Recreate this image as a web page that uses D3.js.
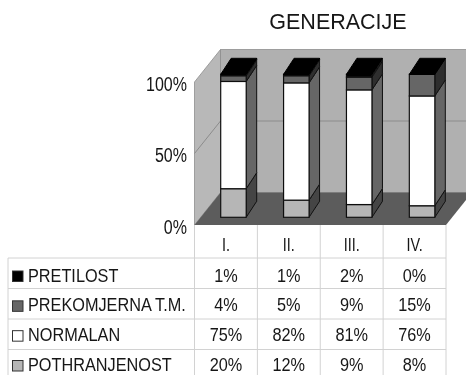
<!DOCTYPE html>
<html>
<head>
<meta charset="utf-8">
<script src="https://cdn.jsdelivr.net/npm/d3@7"></script>
<style>
html, body { margin: 0; padding: 0; background: #fff; overflow: hidden; }
text { font-family: "Liberation Sans", Arial, sans-serif; fill: #161616; }
</style>
</head>
<body>
<script>
// Values
var title = "GENERACIJE";
var generations = ["I.", "II.", "III.", "IV."];
var seriesNames = ["POTHRANJENOST", "NORMALAN", "PREKOMJERNA T.M.", "PRETILOST"];
var pothranjenost = [20, 12, 9, 8];
var normalan = [75, 82, 81, 76];
var prekomjerna = [4, 5, 9, 15];
var pretilost = [1, 1, 2, 0];
var yTicks = [0, 0.5, 1];

var w = 466, h = 375;

var faceColors = ["#b6b6b6", "#ffffff", "#666666", "#000000"];
var sideColors = ["#444444", "#666666", "#2e2e2e", "#1a1a1a"];
var gridColor = "#d2d2d2";

var svg = d3.select("body").append("svg")
    .attr("width", w)
    .attr("height", h)
    .style("display", "block");

// The reference is a soft scan, so everything gets a little blur
svg.append("filter").attr("id", "soft")
    .append("feGaussianBlur").attr("stdDeviation", 0.45);

var root = svg.append("g").attr("filter", "url(#soft)");

// Rows of the stack, one object per generation
var rows = generations.map(function(g, i) {
    return {
        gen: g,
        POTHRANJENOST: pothranjenost[i],
        NORMALAN: normalan[i],
        "PREKOMJERNA T.M.": prekomjerna[i],
        PRETILOST: pretilost[i]
    };
});

// 100% stacked, as the chart was
var stacked = d3.stack()
    .keys(seriesNames)
    .offset(d3.stackOffsetExpand)(rows);

// Scales
var plotLeft = 194.5, plotRight = 446;
var x = d3.scaleBand().domain(generations).range([plotLeft, plotRight]);
var y = d3.scaleLinear().domain([0, 1]).range([225, 82]);

// Depth of the 3d box and of the bars
var depthX = 26, depthY = -32.5;
var barW = 25.5, barDx = 10.5, barDy = -16;
var barOffX = 26.2, barOffY = -7.7;

function pts(a) {
    return a.map(function(p) { return p.join(","); }).join(" ");
}

// Chart labels in the original are squeezed sideways, title is not
function squeezed(px, py, str, size, anchor, sx) {
    return root.append("text")
        .attr("transform", "translate(" + px + "," + py + ") scale(" + sx + ",1)")
        .attr("text-anchor", anchor)
        .style("font-size", size + "px")
        .text(str);
}

// Walls
root.append("polygon")
    .attr("points", pts([
        [plotLeft, y(0)], [plotLeft, y(1)],
        [plotLeft + depthX, y(1) + depthY], [plotLeft + depthX, y(0) + depthY]
    ]))
    .attr("fill", "#b8b8b8").attr("stroke", "#8e8e8e").attr("stroke-width", 0.8);

root.append("polygon")
    .attr("points", pts([
        [plotLeft + depthX, y(0) + depthY], [plotLeft + depthX, y(1) + depthY],
        [plotRight + depthX, y(1) + depthY], [plotRight + depthX, y(0) + depthY]
    ]))
    .attr("fill", "#b0b0b0").attr("stroke", "#8e8e8e").attr("stroke-width", 0.8);

// Floor
root.append("polygon")
    .attr("points", pts([
        [plotLeft, y(0)], [plotRight, y(0)],
        [plotRight + depthX, y(0) + depthY], [plotLeft + depthX, y(0) + depthY]
    ]))
    .attr("fill", "#5c5c5c");

// 50% gridline on the walls
yTicks.filter(function(t) { return t > 0 && t < 1; }).forEach(function(t) {
    root.append("polyline")
        .attr("points", pts([
            [plotLeft, y(t)],
            [plotLeft + depthX, y(t) + depthY],
            [plotRight + depthX, y(t) + depthY]
        ]))
        .attr("fill", "none").attr("stroke", "#8c8c8c").attr("stroke-width", 1);
});

// Bars, drawn bottom segment first
generations.forEach(function(g, gi) {
    var x0 = x(g) + barOffX;
    var x1 = x0 + barW;
    var bar = root.append("g");

    stacked.forEach(function(s, si) {
        var yb = y(s[gi][0]) + barOffY;
        var yt = y(s[gi][1]) + barOffY;

        bar.append("polygon")
            .attr("points", pts([
                [x1, yb], [x1, yt], [x1 + barDx, yt + barDy], [x1 + barDx, yb + barDy]
            ]))
            .attr("fill", sideColors[si])
            .attr("stroke", "#111").attr("stroke-width", 1);

        bar.append("rect")
            .attr("x", x0).attr("y", yt)
            .attr("width", barW).attr("height", yb - yt)
            .attr("fill", faceColors[si])
            .attr("stroke", "#111").attr("stroke-width", 1.2);
    });

    // black lid on top of the stack
    var top = y(1) + barOffY;
    bar.append("polygon")
        .attr("points", pts([
            [x0, top], [x1, top], [x1 + barDx, top + barDy], [x0 + barDx, top + barDy]
        ]))
        .attr("fill", "#000").attr("stroke", "#000").attr("stroke-width", 1);
});

// Y axis labels
yTicks.forEach(function(t) {
    squeezed(187, y(t) + 8.5, d3.format(".0%")(t), 20, "end", 0.8);
});

// Title
root.append("text")
    .attr("x", 338).attr("y", 29)
    .attr("text-anchor", "middle")
    .style("font-size", "21.5px")
    .text(title);

// Data table under the chart
var tableRows = seriesNames.slice().reverse();
var headerTop = 225, tableLeft = 8;
var rowY = d3.scaleBand().domain(tableRows).range([258, 258 + 4 * 30.5]);
// text sits a little differently from the lines, last row has to fit the window
var textY = d3.scalePoint().domain(tableRows).range([275.5, 365]);
var tableBottom = rowY.range()[1];
var tableValues = { "PRETILOST": pretilost, "PREKOMJERNA T.M.": prekomjerna, "NORMALAN": normalan, "POTHRANJENOST": pothranjenost };

var grid = root.append("g").attr("stroke", gridColor).attr("stroke-width", 1);

// vertical lines
generations.forEach(function(g) {
    grid.append("line")
        .attr("x1", x(g)).attr("x2", x(g))
        .attr("y1", headerTop).attr("y2", tableBottom);
});
grid.append("line")
    .attr("x1", plotRight).attr("x2", plotRight)
    .attr("y1", headerTop).attr("y2", tableBottom);
grid.append("line")
    .attr("x1", tableLeft).attr("x2", tableLeft)
    .attr("y1", 258).attr("y2", tableBottom);

// horizontal lines
tableRows.forEach(function(r) {
    grid.append("line")
        .attr("x1", tableLeft).attr("x2", plotRight)
        .attr("y1", rowY(r)).attr("y2", rowY(r));
});

// header labels
generations.forEach(function(g) {
    squeezed(x(g) + x.bandwidth() / 2, 250.5, g, 18, "middle", 0.8);
});

// rows
tableRows.forEach(function(r) {
    var si = seriesNames.indexOf(r);
    var cy = textY(r);

    root.append("rect")
        .attr("x", 12.5).attr("y", cy - 4.5)
        .attr("width", 10.5).attr("height", 10.5)
        .attr("fill", faceColors[si])
        .attr("stroke", "#333").attr("stroke-width", 1);

    squeezed(28, cy + 6, r, 18.5, "start", 0.88);

    generations.forEach(function(g, gi) {
        squeezed(x(g) + x.bandwidth() / 2, cy + 6, tableValues[r][gi] + "%", 18.5, "middle", 0.88);
    });
});
</script>
</body>
</html>
